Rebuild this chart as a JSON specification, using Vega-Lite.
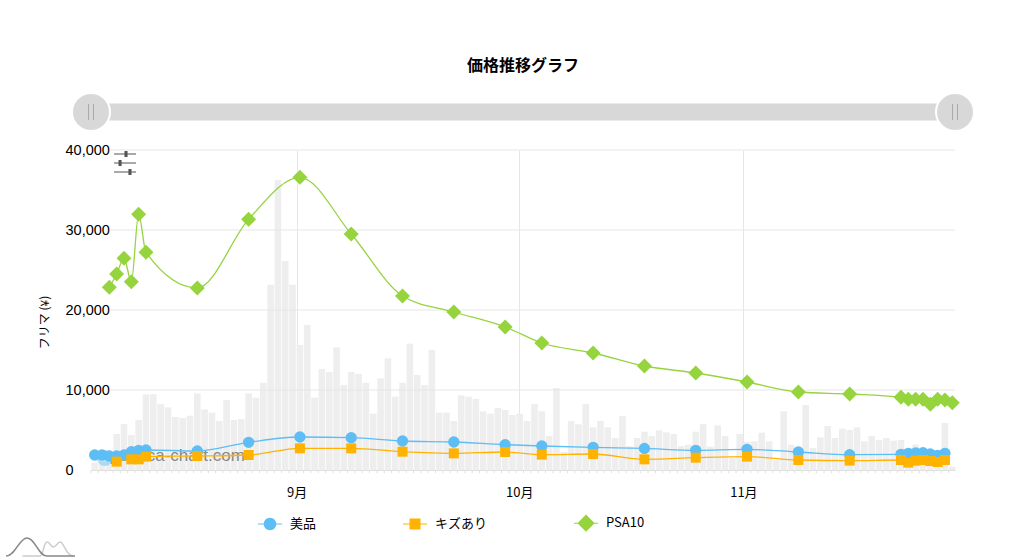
{"$schema":"https://vega.github.io/schema/vega-lite/v6.json","width":864,"height":320,"autosize":"none","padding":{"left":91,"top":150,"right":68,"bottom":89},"background":"white",
"config":{"font":"Liberation Sans, Noto Sans CJK JP","view":{"stroke":null},"axis":{"labelFont":"Liberation Sans, Noto Sans CJK JP","titleFont":"Liberation Sans, Noto Sans CJK JP"},"legend":{"labelFont":"Liberation Sans, Noto Sans CJK JP"}},
"title":{"text":"価格推移グラフ","fontSize":16,"fontWeight":"bold","color":"#000","anchor":"middle","offset":15,"font":"Noto Sans CJK JP"},
"datasets":{
"volume":[{"day":0,"volume":920},{"day":1,"volume":1000},{"day":2,"volume":1500},{"day":3,"volume":4500},{"day":4,"volume":5750},{"day":5,"volume":4375},{"day":6,"volume":6250},{"day":7,"volume":9460},{"day":8,"volume":9460},{"day":9,"volume":8250},{"day":10,"volume":7830},{"day":11,"volume":6625},{"day":12,"volume":6500},{"day":13,"volume":6790},{"day":14,"volume":9580},{"day":15,"volume":7580},{"day":16,"volume":7170},{"day":17,"volume":6125},{"day":18,"volume":8750},{"day":19,"volume":6250},{"day":20,"volume":6375},{"day":21,"volume":9580},{"day":22,"volume":9040},{"day":23,"volume":10900},{"day":24,"volume":23170},{"day":25,"volume":36250},{"day":26,"volume":26130},{"day":27,"volume":23170},{"day":28,"volume":15625},{"day":29,"volume":18125},{"day":30,"volume":9040},{"day":31,"volume":12625},{"day":32,"volume":12250},{"day":33,"volume":15330},{"day":34,"volume":10625},{"day":35,"volume":12250},{"day":36,"volume":12000},{"day":37,"volume":10900},{"day":38,"volume":7040},{"day":39,"volume":11460},{"day":40,"volume":13960},{"day":41,"volume":9170},{"day":42,"volume":10900},{"day":43,"volume":15800},{"day":44,"volume":11875},{"day":45,"volume":10625},{"day":46,"volume":15000},{"day":47,"volume":7170},{"day":48,"volume":7170},{"day":49,"volume":6125},{"day":50,"volume":9330},{"day":51,"volume":9170},{"day":52,"volume":8875},{"day":53,"volume":7330},{"day":54,"volume":7040},{"day":55,"volume":7750},{"day":56,"volume":7500},{"day":57,"volume":6875},{"day":58,"volume":7040},{"day":59,"volume":6125},{"day":60,"volume":8250},{"day":61,"volume":7330},{"day":62,"volume":4250},{"day":63,"volume":10250},{"day":64,"volume":2250},{"day":65,"volume":6125},{"day":66,"volume":5710},{"day":67,"volume":8250},{"day":68,"volume":5330},{"day":69,"volume":6125},{"day":70,"volume":5330},{"day":71,"volume":4000},{"day":72,"volume":6750},{"day":73,"volume":3000},{"day":74,"volume":4000},{"day":75,"volume":4790},{"day":76,"volume":4250},{"day":77,"volume":4960},{"day":78,"volume":4710},{"day":79,"volume":4500},{"day":80,"volume":3000},{"day":81,"volume":3170},{"day":82,"volume":4790},{"day":83,"volume":5750},{"day":84,"volume":2920},{"day":85,"volume":5580},{"day":86,"volume":4250},{"day":87,"volume":1500},{"day":88,"volume":4500},{"day":89,"volume":3500},{"day":90,"volume":3580},{"day":91,"volume":4670},{"day":92,"volume":3580},{"day":93,"volume":1250},{"day":94,"volume":7330},{"day":95,"volume":3170},{"day":96,"volume":2500},{"day":97,"volume":8125},{"day":98,"volume":2750},{"day":99,"volume":4080},{"day":100,"volume":5500},{"day":101,"volume":4000},{"day":102,"volume":5170},{"day":103,"volume":5000},{"day":104,"volume":5330},{"day":105,"volume":3580},{"day":106,"volume":4250},{"day":107,"volume":3750},{"day":108,"volume":4000},{"day":109,"volume":3670},{"day":110,"volume":3750},{"day":111,"volume":2500},{"day":112,"volume":3170},{"day":113,"volume":2500},{"day":114,"volume":2080},{"day":115,"volume":1670},{"day":116,"volume":5875},{"day":117,"volume":420}],
"prices":[
{"series":"美品","day":0,"price":1875},{"series":"美品","day":1,"price":1875},{"series":"美品","day":2,"price":1750},{"series":"美品","day":3,"price":1750},{"series":"美品","day":4,"price":1875},{"series":"美品","day":5,"price":2290},{"series":"美品","day":6,"price":2460},{"series":"美品","day":7,"price":2500},{"series":"美品","day":14,"price":2375},{"series":"美品","day":21,"price":3460},{"series":"美品","day":28,"price":4125},{"series":"美品","day":35,"price":4040},{"series":"美品","day":42,"price":3625},{"series":"美品","day":49,"price":3500},{"series":"美品","day":56,"price":3170},{"series":"美品","day":61,"price":3000},{"series":"美品","day":68,"price":2830},{"series":"美品","day":75,"price":2700},{"series":"美品","day":82,"price":2460},{"series":"美品","day":89,"price":2580},{"series":"美品","day":96,"price":2250},{"series":"美品","day":103,"price":1920},{"series":"美品","day":110,"price":1960},{"series":"美品","day":111,"price":2080},{"series":"美品","day":112,"price":2125},{"series":"美品","day":113,"price":2170},{"series":"美品","day":114,"price":2000},{"series":"美品","day":115,"price":1830},{"series":"美品","day":116,"price":2080},
{"series":"キズあり","day":3,"price":1040},{"series":"キズあり","day":5,"price":1330},{"series":"キズあり","day":6,"price":1330},{"series":"キズあり","day":7,"price":1670},{"series":"キズあり","day":14,"price":1750},{"series":"キズあり","day":21,"price":1875},{"series":"キズあり","day":28,"price":2710},{"series":"キズあり","day":35,"price":2710},{"series":"キズあり","day":42,"price":2290},{"series":"キズあり","day":49,"price":2080},{"series":"キズあり","day":56,"price":2250},{"series":"キズあり","day":61,"price":1920},{"series":"キズあり","day":68,"price":2000},{"series":"キズあり","day":75,"price":1330},{"series":"キズあり","day":82,"price":1540},{"series":"キズあり","day":89,"price":1670},{"series":"キズあり","day":96,"price":1250},{"series":"キズあり","day":103,"price":1170},{"series":"キズあり","day":110,"price":1250},{"series":"キズあり","day":111,"price":920},{"series":"キズあり","day":112,"price":1170},{"series":"キズあり","day":113,"price":1250},{"series":"キズあり","day":114,"price":1125},{"series":"キズあり","day":115,"price":1000},{"series":"キズあり","day":116,"price":1250},
{"series":"PSA10","day":2,"price":22835},{"series":"PSA10","day":3,"price":24500},{"series":"PSA10","day":4,"price":26460},{"series":"PSA10","day":5,"price":23540},{"series":"PSA10","day":6,"price":31960},{"series":"PSA10","day":7,"price":27210},{"series":"PSA10","day":14,"price":22750},{"series":"PSA10","day":21,"price":31335},{"series":"PSA10","day":28,"price":36585},{"series":"PSA10","day":35,"price":29500},{"series":"PSA10","day":42,"price":21750},{"series":"PSA10","day":49,"price":19750},{"series":"PSA10","day":56,"price":17875},{"series":"PSA10","day":61,"price":15875},{"series":"PSA10","day":68,"price":14625},{"series":"PSA10","day":75,"price":13000},{"series":"PSA10","day":82,"price":12125},{"series":"PSA10","day":89,"price":11000},{"series":"PSA10","day":96,"price":9750},{"series":"PSA10","day":103,"price":9500},{"series":"PSA10","day":110,"price":9090},{"series":"PSA10","day":111,"price":8830},{"series":"PSA10","day":112,"price":8830},{"series":"PSA10","day":113,"price":8830},{"series":"PSA10","day":114,"price":8210},{"series":"PSA10","day":115,"price":8830},{"series":"PSA10","day":116,"price":8750},{"series":"PSA10","day":117,"price":8420}]
},
"layer":[
{"data":{"name":"volume"},"mark":{"type":"bar","size":6.6,"color":"#eeeeee"},
"encoding":{"x":{"field":"day","type":"quantitative","scale":{"domain":[-0.5,117.37],"nice":false,"zero":false,"padding":0},"axis":{"values":[27.56,57.93,88.5],"labelExpr":"datum.value<40?'9月':datum.value<70?'10月':'11月'","labelFont":"Noto Sans CJK JP","labelFontSize":13,"labelColor":"#000","labelPadding":16,"title":null,"ticks":false,"domainColor":"#e0e0e0","grid":true,"gridColor":"#e6e6e6"}},
"y":{"field":"volume","type":"quantitative","scale":{"domain":[0,40000],"nice":false},"axis":{"values":[0,10000,20000,30000,40000],"format":",d","title":"フリマ (¥)","titleFont":"Noto Sans CJK JP","titleFontSize":12,"titleFontWeight":"normal","titleColor":"#000","titleX":-40,"titleY":172,"labelFontSize":14.5,"labelColor":"#000","labelAlign":"left","labelPadding":26,"domain":false,"ticks":false,"grid":false}}}},
{"data":{"values":[{"level":10000,"from":2.09,"to":117.37},{"level":20000,"from":2.09,"to":117.37},{"level":30000,"from":2.09,"to":117.37},{"level":40000,"from":2.09,"to":117.37}]},"mark":{"type":"rule","color":"#e6e6e6"},"encoding":{"x":{"field":"from","type":"quantitative"},"x2":{"field":"to"},"y":{"field":"level","type":"quantitative"}}},
{"data":{"name":"volume"},"mark":{"type":"rule","color":"#e0e0e0","xOffset":-3.66},"encoding":{"x":{"field":"day","type":"quantitative"},"y":{"datum":0,"type":"quantitative"},"y2":{"datum":-400}}},
{"data":{"values":[{"logo":"pokeca-chart.com","day":20.5,"level":1750}]},"mark":{"type":"text","align":"right","baseline":"middle","fontSize":17,"color":"#888888"},"encoding":{"text":{"field":"logo"},"x":{"field":"day","type":"quantitative"},"y":{"field":"level","type":"quantitative"}}},
{"data":{"values":[{"day":1.4,"level":1500}]},"mark":{"type":"point","shape":"circle","filled":true,"size":260,"color":"#5dbdf5","opacity":0.45},"encoding":{"x":{"field":"day","type":"quantitative"},"y":{"field":"level","type":"quantitative"}}},
{"data":{"name":"prices"},"mark":{"type":"line","interpolate":"monotone","strokeWidth":1.3},"encoding":{"x":{"field":"day","type":"quantitative"},"y":{"field":"price","type":"quantitative"},"stroke":{"field":"series","type":"nominal","scale":{"domain":["PSA10","キズあり","美品"],"range":["#96d43e","#ffb300","#5dbdf5"]},"legend":null}}},
{"data":{"name":"prices"},"mark":{"type":"point","filled":true,"opacity":1},"encoding":{"x":{"field":"day","type":"quantitative"},"y":{"field":"price","type":"quantitative"},"fill":{"field":"series","type":"nominal","scale":{"domain":["PSA10","キズあり","美品"],"range":["#96d43e","#ffb300","#5dbdf5"]},"legend":null},"shape":{"condition":[{"test":"datum.series==='美品'","value":"circle"},{"test":"datum.series==='キズあり'","value":"square"}],"value":"diamond"},"size":{"condition":[{"test":"datum.series==='美品'","value":128},{"test":"datum.series==='キズあり'","value":100}],"value":225}}},
{"data":{"name":"prices"},"transform":[{"filter":"datum.day<-100"}],"mark":{"type":"point","filled":true,"opacity":1},"encoding":{"x":{"field":"day","type":"quantitative"},"y":{"field":"price","type":"quantitative"},"color":{"field":"series","type":"nominal","scale":{"domain":["美品","キズあり","PSA10"],"range":["#5dbdf5","#ffb300","#96d43e"]},"legend":{"title":null,"orient":"none","direction":"horizontal","legendX":167,"legendY":361,"symbolSize":576,"symbolStrokeWidth":0,"symbolOpacity":1,"labelFont":"Noto Sans CJK JP","labelFontSize":13,"labelColor":"#000","labelOffset":8,"columnPadding":86}},"shape":{"field":"series","type":"nominal","scale":{"domain":["美品","キズあり","PSA10"],"range":["M-1,-0.045H1V0.045H-1Z M-0.52,0A0.52,0.52 0 1 1 0.52,0A0.52,0.52 0 1 1 -0.52,0Z","M-1,-0.045H1V0.045H-1Z M-0.46,-0.46H0.46V0.46H-0.46Z","M-1,-0.045H1V0.045H-1Z M0,-0.72L0.72,0L0,0.72L-0.72,0Z"]}}}},
{"data":{"values":[{"from":-0.5,"to":117.37,"level":44750}]},"mark":{"type":"rule","strokeWidth":17,"color":"#d8d8d8"},"encoding":{"x":{"field":"from","type":"quantitative"},"x2":{"field":"to"},"y":{"field":"level","type":"quantitative"}}},
{"data":{"values":[{"day":-0.5,"level":44750},{"day":117.37,"level":44750}]},"layer":[
{"mark":{"type":"point","shape":"circle","filled":true,"size":1444,"fill":"#d8d8d8","stroke":"#ffffff","strokeWidth":2,"opacity":1},"encoding":{"x":{"field":"day","type":"quantitative"},"y":{"field":"level","type":"quantitative"}}},
{"mark":{"type":"point","shape":"M-0.25,-0.8V0.8M0.25,-0.8V0.8","filled":false,"size":400,"stroke":"#aaaaaa","strokeWidth":1,"opacity":1},"encoding":{"x":{"field":"day","type":"quantitative"},"y":{"field":"level","type":"quantitative"}}}]},
{"data":{"values":[{"day":4.14,"level":38375}]},"mark":{"type":"point","shape":"M-1,-0.87H1V-0.77H-1Z M-0.05,-1.09H0.23V-0.55H-0.05Z M-1,-0.05H1V0.05H-1Z M-0.59,-0.27H-0.31V0.27H-0.59Z M-1,0.77H1V0.87H-1Z M0.31,0.55H0.59V1.09H0.31Z","filled":true,"size":484,"color":"#555555","opacity":1},"encoding":{"x":{"field":"day","type":"quantitative"},"y":{"field":"level","type":"quantitative"}}},
{"data":{"values":[{"day":-7.46,"level":-9625}]},"layer":[
{"mark":{"type":"point","shape":"M-0.5,0.26H0C0.1,0.26 0.1,-0.14 0.2,-0.14C0.3,-0.14 0.3,0 0.38,0C0.46,0 0.5,-0.14 0.58,-0.14C0.68,-0.14 0.75,0.26 0.95,0.26","filled":false,"size":4900,"stroke":"#cccccc","strokeWidth":1.5,"opacity":1},"encoding":{"x":{"field":"day","type":"quantitative"},"y":{"field":"level","type":"quantitative"}}},
{"mark":{"type":"point","shape":"M-0.97,0.26C-0.7,0.26 -0.6,-0.26 -0.37,-0.26C-0.14,-0.26 -0.05,0.26 0.2,0.26H1","filled":false,"size":4900,"stroke":"#888888","strokeWidth":1.5,"opacity":1},"encoding":{"x":{"field":"day","type":"quantitative"},"y":{"field":"level","type":"quantitative"}}}]}
]}
